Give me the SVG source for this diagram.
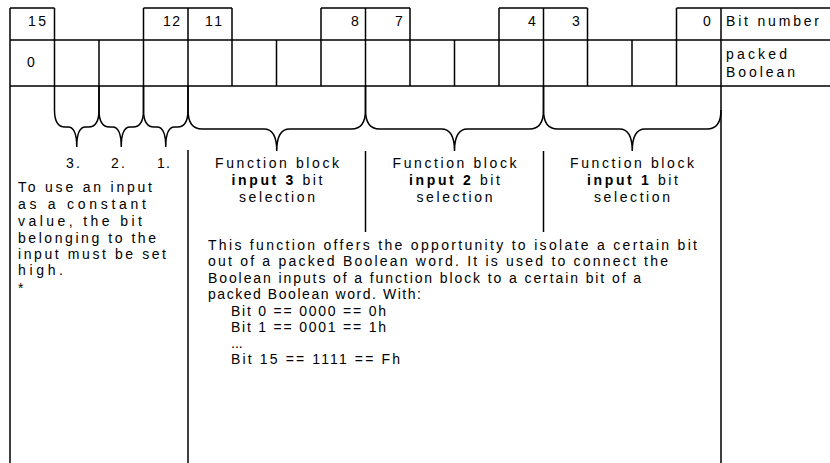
<svg xmlns="http://www.w3.org/2000/svg" width="830" height="463" viewBox="0 0 830 463">
<style>
.ln{stroke:#000;stroke-width:1.5;fill:none}
text{font-family:"Liberation Sans",Arial,sans-serif;font-size:14px;fill:#000}
.b{font-weight:bold}
</style>
<rect width="830" height="463" fill="#fff"/>
<g id="table">
<path class="ln" d="M10 8H54.5M143.5 8H232M321 8H410M499 8H587.5M676.5 8H830M10 40H830M10 86H830
M10 8V463M54.5 8V40M143.5 8V40M188 8V40M232 8V40M321 8V40M365.5 8V40M410 8V40M499 8V40M543.5 8V40M587.5 8V40M676.5 8V40M721 8V463
M54.5 40V86M99 40V86M143.5 40V86M188 40V86M232 40V86M276.5 40V86M321 40V86M365.5 40V86M410 40V86M454.5 40V86M499 40V86M543.5 40V86M587.5 40V86M632 40V86M676.5 40V86"/>
<text x="28" y="26" textLength="18" lengthAdjust="spacing">15</text>
<text x="163" y="26" textLength="17" lengthAdjust="spacing">12</text>
<text x="205" y="26" textLength="17" lengthAdjust="spacing">11</text>
<text x="351" y="26">8</text>
<text x="395" y="26">7</text>
<text x="528" y="26">4</text>
<text x="572" y="26">3</text>
<text x="703" y="26">0</text>
<text x="726" y="26" textLength="93" lengthAdjust="spacing">Bit number</text>
<text x="27" y="67">0</text>
<text x="726" y="59" textLength="61" lengthAdjust="spacing">packed</text>
<text x="726" y="77" textLength="69" lengthAdjust="spacing">Boolean</text>
</g>
<g id="connectors">
<path class="ln" d="M54.5 86V110Q54.5 127 65 127H68Q76.75 127 76.75 147Q76.75 127 85.5 127H88.5Q99 127 99 110V86"/>
<path class="ln" d="M99 86V110Q99 127 109.5 127H112.5Q121.25 127 121.25 147Q121.25 127 130 127H133Q143.5 127 143.5 110V86"/>
<path class="ln" d="M143.5 86V110Q143.5 127 154 127H157Q165.75 127 165.75 147Q165.75 127 174.5 127H177.5Q188 127 188 110V86"/>
<path class="ln" d="M188 86V110Q188 129 202 129H264Q276.75 129 276.75 151Q276.75 129 289.5 129H351.5Q365.5 129 365.5 110V86"/>
<path class="ln" d="M365.5 86V110Q365.5 129 379.5 129H441.5Q454.5 129 454.5 151Q454.5 129 467.5 129H529.5Q543.5 129 543.5 110V86"/>
<path class="ln" d="M543.5 86V110Q543.5 129 557.5 129H619.5Q632.25 129 632.25 151Q632.25 129 645 129H707Q721 129 721 110"/>
<path class="ln" d="M188 150V463M365.5 151V232M543.5 151V232"/>
</g>
<g id="inputs">
<text x="66" y="168" textLength="14" lengthAdjust="spacing">3.</text>
<text x="111" y="168" textLength="14" lengthAdjust="spacing">2.</text>
<text x="157" y="168" textLength="13" lengthAdjust="spacing">1.</text>
</g>
<g id="note">
<text x="18" y="192" textLength="134" lengthAdjust="spacing">To use an input</text>
<text x="18" y="209" textLength="128" lengthAdjust="spacing">as a constant</text>
<text x="18" y="226" textLength="124" lengthAdjust="spacing">value, the bit</text>
<text x="18" y="243" textLength="138" lengthAdjust="spacing">belonging to the</text>
<text x="18" y="259" textLength="148" lengthAdjust="spacing">input must be set</text>
<text x="18" y="275" textLength="45" lengthAdjust="spacing">high.</text>
<text x="18" y="293">*</text>
</g>
<g id="fb3">
<text x="215" y="168" textLength="124" lengthAdjust="spacing">Function block</text>
<text x="231.5" y="185" textLength="91" lengthAdjust="spacing"><tspan class="b">input 3</tspan> bit</text>
<text x="239" y="202" textLength="76" lengthAdjust="spacing">selection</text>
</g>
<g id="fb2">
<text x="392.5" y="168" textLength="124" lengthAdjust="spacing">Function block</text>
<text x="409" y="185" textLength="91" lengthAdjust="spacing"><tspan class="b">input 2</tspan> bit</text>
<text x="416.5" y="202" textLength="76" lengthAdjust="spacing">selection</text>
</g>
<g id="fb1">
<text x="570" y="168" textLength="124" lengthAdjust="spacing">Function block</text>
<text x="587" y="185" textLength="91" lengthAdjust="spacing"><tspan class="b">input 1</tspan> bit</text>
<text x="594" y="202" textLength="76" lengthAdjust="spacing">selection</text>
</g>
<g id="description">
<text x="208" y="250" textLength="489" lengthAdjust="spacing">This function offers the opportunity to isolate a certain bit</text>
<text x="208" y="266" textLength="460" lengthAdjust="spacing">out of a packed Boolean word. It is used to connect the</text>
<text x="208" y="283" textLength="433" lengthAdjust="spacing">Boolean inputs of a function block to a certain bit of a</text>
<text x="208" y="299" textLength="213" lengthAdjust="spacing">packed Boolean word. With:</text>
<text x="231" y="316" textLength="155" lengthAdjust="spacing">Bit 0 == 0000 == 0h</text>
<text x="231" y="332" textLength="155" lengthAdjust="spacing">Bit 1 == 0001 == 1h</text>
<text x="231" y="348">...</text>
<text x="231" y="364" textLength="169" lengthAdjust="spacing">Bit 15 == 1111 == Fh</text>
</g>
</svg>
